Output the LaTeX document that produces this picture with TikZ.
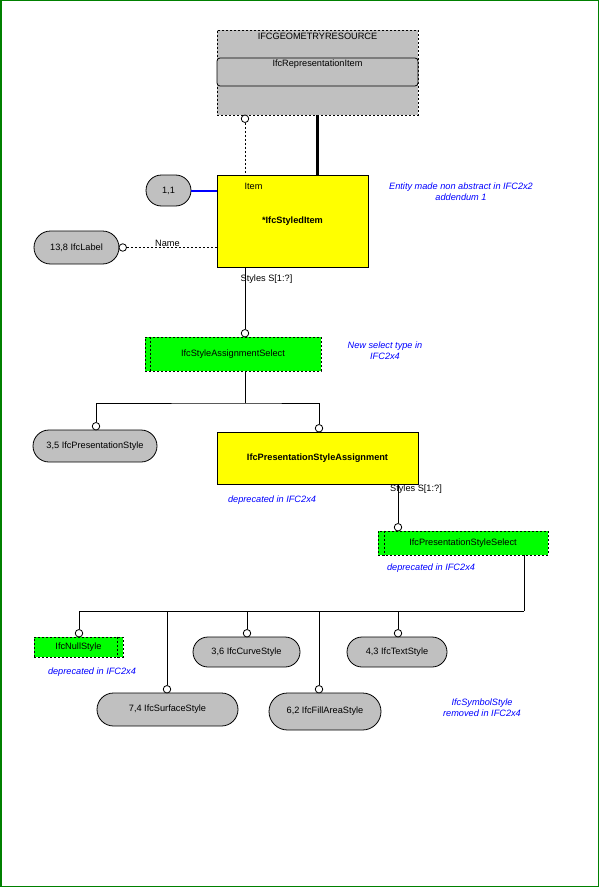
\documentclass[tikz,border=0pt]{standalone}
\usepackage{fontspec}
\setmainfont{Liberation Sans}
\usetikzlibrary{shapes.misc}
\definecolor{gfill}{RGB}{192,192,192}
\definecolor{sgreen}{RGB}{0,255,0}
\definecolor{syellow}{RGB}{255,255,0}
\definecolor{framegreen}{RGB}{0,128,0}
\definecolor{noteblue}{RGB}{0,0,255}
\begin{document}
\begin{tikzpicture}[x=1pt,y=-1pt,
  font=\fontsize{9.2}{11}\selectfont,
  line width=0.8pt,
  dsh/.style={dash pattern=on 2pt off 2pt},
  grp/.style={draw, dsh, fill=gfill, inner sep=0pt},
  entity/.style={draw, fill=syellow, inner sep=0pt, font=\fontsize{9.2}{11}\selectfont\bfseries},
  pill/.style={draw, rounded rectangle, fill=gfill, inner sep=0pt},
  selbox/.style={draw, dsh, fill=sgreen, inner sep=0pt},
  circ/.style={circle, draw, fill=white, minimum size=7.5pt, inner sep=0pt, line width=0.8pt},
  note/.style={text=noteblue, font=\fontsize{9.2}{11}\selectfont\itshape, align=center},
  lbl/.style={inner sep=0pt}]
\useasboundingbox (0,0) rectangle (600,888);
\draw[framegreen, line width=1.5pt] (0.75,0.75) rectangle (598.5,886.5);

% geometry resource group
\node[grp, minimum width=201pt, minimum height=85pt] (geo) at (317.5,72.5) {};
\node[lbl] (geot) at (317.5,36) {IFCGEOMETRYRESOURCE};
\node[draw, rounded corners=3pt, fill=gfill, minimum width=201pt, minimum height=28pt, inner sep=0pt] (rep) at (317.5,72) {};
\node[lbl] (rept) at (317.5,64) {IfcRepresentationItem};

% styled item
\node[entity, minimum width=151pt, minimum height=92pt] (styled) at (292.5,221) {*IfcStyledItem};
\node[pill, minimum width=45pt, minimum height=31pt] (one) at (168.5,190.5) {1,1};
\node[pill, minimum width=85pt, minimum height=33pt] (lab) at (76.5,247.5) {13,8 IfcLabel};

\node[circ] (c1) at (245,118.75) {};
\draw[dsh] (c1.south) -- (styled.north -| c1);
\draw[line width=3.5pt] ([xshift=101pt]geo.south west) -- ([xshift=101pt]styled.north west);
\draw[noteblue, line width=2pt] (one.east) -- (styled.west |- one.east);
\node[circ] (c2) at (122.75,247.5) {};
\draw[dsh] (c2.east) -- (styled.west |- c2);
\node[lbl] (name) at (167.5,243) {Name};
\node[lbl] (item) at (253.5,186) {Item};
\node[note] (n0) at (461,192) {Entity made non abstract in IFC2x2\\addendum 1};

% style assignment select
\node[selbox, minimum width=176pt, minimum height=34pt] (sel1) at (233,354) {IfcStyleAssignmentSelect};
\draw[dsh] ([xshift=6pt]sel1.north west) -- ([xshift=6pt]sel1.south west);
\node[circ] (c3) at (245,333.25) {};
\draw (c3.north) -- (styled.south -| c3);
\node[lbl] (st1) at (266.5,279.5) {Styles S[1:?]};
\node[note] (n1) at (385,351) {New select type in\\IFC2x4};

\coordinate (j1) at (245,403);
\draw (sel1.south -| j1) -- (j1);
\node[pill, minimum width=124pt, minimum height=32pt] (ps) at (95,446) {3,5 IfcPresentationStyle};
\node[entity, minimum width=201pt, minimum height=52pt] (psa) at (317.5,458) {IfcPresentationStyleAssignment};
\node[circ] (c4) at (96,426.25) {};
\node[circ] (c5) at (319,428.25) {};
\draw (c4.north) |- (j1) -| (c5.north);
\node[note] (n2) at (272,500) {deprecated in IFC2x4};

% presentation style select
\node[selbox, minimum width=170pt, minimum height=24pt] (sel2) at (463,543) {IfcPresentationStyleSelect};
\draw[dsh] ([xshift=7pt]sel2.north west) -- ([xshift=7pt]sel2.south west);
\node[circ] (c6) at (398,527.25) {};
\draw (c6.north) -- (psa.south -| c6);
\node[lbl] (st2) at (416,489) {Styles S[1:?]};
\node[note] (n3) at (431,568) {deprecated in IFC2x4};

\coordinate (j2) at (524,611);
\draw (sel2.south -| j2) -- (j2);

\node[selbox, minimum width=89pt, minimum height=20pt] (null) at (78.5,647) {IfcNullStyle};
\draw[dsh] ([xshift=-6pt]null.north east) -- ([xshift=-6pt]null.south east);
\node[pill, minimum width=107pt, minimum height=30pt] (curve) at (246.5,652) {3,6 IfcCurveStyle};
\node[pill, minimum width=141pt, minimum height=33pt] (surf) at (167.5,709.5) {7,4 IfcSurfaceStyle};
\node[pill, minimum width=112pt, minimum height=37pt] (fillst) at (325,711.5) {6,2 IfcFillAreaStyle};
\node[pill, minimum width=100pt, minimum height=30pt] (textst) at (397,652) {4,3 IfcTextStyle};

\node[circ] (c7) at (79,633.25) {};
\node[circ] (c8) at (167,689.25) {};
\node[circ] (c9) at (247,633.25) {};
\node[circ] (c10) at (319,689.25) {};
\node[circ] (c11) at (398,633.25) {};
\draw (c7.north) |- (j2);
\draw (c8.north) -- (c8.north |- j2);
\draw (c9.north) -- (c9.north |- j2);
\draw (c10.north) -- (c10.north |- j2);
\draw (c11.north) -- (c11.north |- j2);

\node[note] (n4) at (92,672) {deprecated in IFC2x4};
\node[note] (n5) at (482,708) {IfcSymbolStyle\\removed in IFC2x4};
\end{tikzpicture}
\end{document}
